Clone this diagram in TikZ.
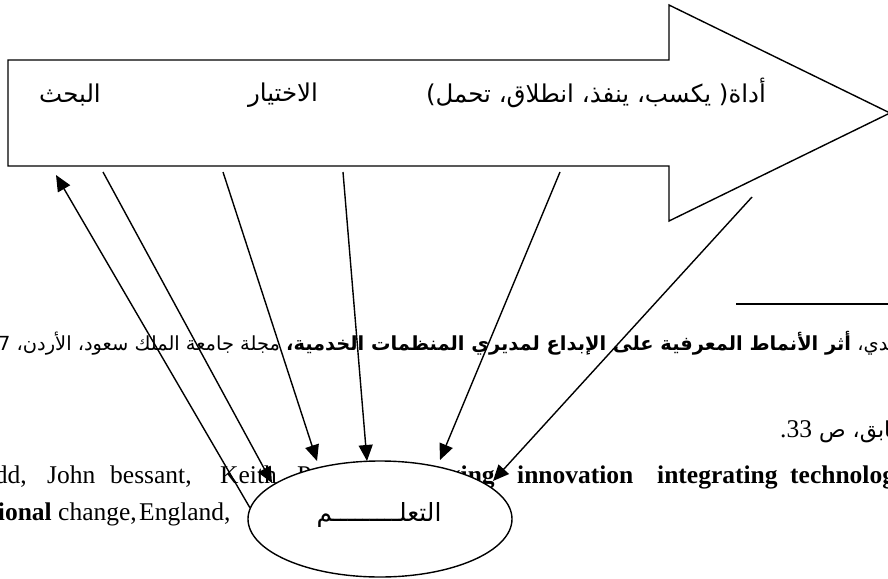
\documentclass[tikz,border=0pt]{standalone}
\usepackage{fontspec}
\setmainfont{Liberation Serif}
\newfontfamily\arabicfont[Script=Arabic]{DejaVu Sans}
\TeXXeTstate=1
\usetikzlibrary{arrows.meta,shapes.geometric}

\begin{document}
\begin{tikzpicture}[x=1pt,y=-1pt,
  outline/.style={draw=black,line width=1.4pt,fill=white,line join=miter},
  link/.style={draw=black,line width=1.4pt},
  tip/.style={-{Triangle[length=16pt,width=14pt]}},
  stage/.style={font=\arabicfont\fontsize{24.5}{28}\selectfont,inner sep=0pt},
  en/.style={font=\fontsize{25.5}{30}\selectfont,inner sep=0pt,anchor=base west},
  enb/.style={font=\fontsize{25.5}{30}\selectfont\bfseries,inner sep=0pt,anchor=base west},
  arline/.style={font=\arabicfont\fontsize{19.4}{24}\selectfont,inner sep=0pt,anchor=base west}]
\useasboundingbox (0,0) rectangle (888,578);
\clip (0,0) rectangle (888,578);
\fill[white] (0,0) rectangle (888,578);

% footnote text of the page
\draw[line width=1.4pt] (736,304) coordinate (rulestart) -- (888,304) coordinate (ruleend);
\node[arline] (ref1) at (-2,350) {\beginR العبيدي، {\bfseries أثر الأنماط المعرفية على الإبداع لمديري المنظمات الخدمية،} مجلة جامعة الملك سعود، الأردن، 7\endR};
\node[arline,font=\arabicfont\fontsize{22}{26}\selectfont] (ref2) at (780,437) {\beginR السابق، ص \beginL{\rmfamily\fontsize{25.5}{30}\selectfont .33}\endL\endR};

\node[en,anchor=base east] (w1) at (27,483) {Tidd,};
\node[en] (w2) at (47,483) {John};
\node[en] (w3) at (110,483) {bessant,};
\node[en] (w4) at (220,483) {Keith};
\node[en] (w5) at (297,483) {Pavitt,};
\node[enb] (w6) at (384,483) {Managing};
\node[enb] (w7) at (517,483) {innovation};
\node[enb] (w8) at (657,483) {integrating};
\node[enb] (w9) at (790,483) {technological,};
\node[enb,anchor=base east] (v1) at (52,520) {organizational};
\node[en] (v2) at (58,520) {change,};
\node[en] (v3) at (139,520) {England,};

% the big process arrow
\draw[outline] (8,60) -- (669,60) -- (669,5) -- (890,113) -- (669,221) -- (669,166) -- (8,166) -- cycle;
\node[stage] (search) at (70,95) {\beginR البحث\endR};
\node[stage] (choice) at (283,95) {\beginR الاختيار\endR};
\node[stage] (tool) at (596,93) {\beginR أداة( يكسب، ينفذ، انطلاق، تحمل)\endR};

% learning
\node[ellipse,draw=black,line width=1.4pt,fill=white,minimum width=264pt,minimum height=116pt,inner sep=0pt] (learn) at (380,519) {};
\node[font=\arabicfont\fontsize{25}{30}\selectfont,inner sep=0pt] (learnlbl) at (379,515) {\beginR التعلـــــــــم\endR};

% connector ends under the arrow body and above the ellipse
\coordinate (b1) at (56,175);
\coordinate (b2) at (103,172);
\coordinate (b3) at (223,172);
\coordinate (b4) at (343,172);
\coordinate (b5) at (560,172);
\coordinate (b6) at (752,197);
\coordinate (e2) at (272,483);
\coordinate (e3) at (317,461);
\coordinate (e4) at (367,461);
\coordinate (e5) at (440,460);
\coordinate (e6) at (493,481);

\draw[link,tip] (learn.175) -- (b1);
\draw[link,tip] (b2) -- (e2);
\draw[link,tip] (b3) -- (e3);
\draw[link,tip] (b4) -- (e4);
\draw[link,tip] (b5) -- (e5);
\draw[link,tip] (b6) -- (e6);
\end{tikzpicture}
\end{document}
